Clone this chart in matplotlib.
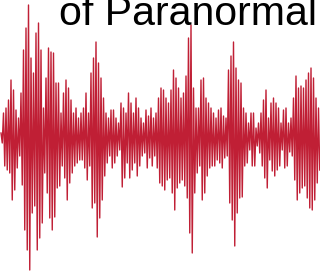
#!/usr/bin/env python3
# -*- coding: utf-8 -*-

import numpy as np
import matplotlib.pyplot as plt

title_text = 'of Paranormal'

# waveform samples (peak, trough pairs)
wave = [
    5, -5, 25, -28, 30, -32, 38, -35, 58, -62, 48, -52, 28, -30, 20, -18,
    45, -47, 88, -92, 110, -112, 133, -132, 80, -75, 65, -68, 105, -112, 115, -100,
    88, -85, 30, -35, 60, -55, 90, -80, 86, -92, 85, -79, 55, -50, 55, -48,
    25, -28, 45, -40, 58, -62, 50, -45, 38, -35, 25, -28, 30, -25, 20, -22,
    25, -22, 30, -30, 45, -42, 25, -28, 65, -70, 80, -65, 96, -99, 75, -80,
    60, -62, 40, -38, 25, -25, 20, -18, 28, -30, 28, -25, 20, -18, 15, -12,
    35, -49, 30, -40, 25, -25, 45, -40, 35, -32, 25, -25, 40, -38, 30, -28,
    20, -18, 15, -15, 28, -30, 22, -20, 30, -28, 20, -18, 25, -30, 40, -45,
    50, -48, 48, -52, 40, -42, 35, -40, 48, -55, 68, -72, 60, -50, 50, -45,
    40, -42, 45, -48, 62, -60, 100, -95, 113, -115, 50, -55, 30, -35, 30, -28,
    58, -62, 60, -55, 40, -38, 35, -30, 30, -28, 25, -28, 20, -22, 28, -25,
    30, -30, 22, -20, 20, -18, 68, -65, 82, -82, 96, -108, 70, -75, 58, -60,
    55, -59, 30, -28, 25, -25, 15, -12, 25, -28, 25, -28, 10, -8, 15, -15,
    25, -28, 38, -40, 48, -50, 20, -22, 35, -33, 40, -38, 35, -32, 30, -28,
    15, -12, 28, -30, 30, -28, 15, -14, 20, -18, 40, -42, 62, -62, 50, -55,
    52, -50, 50, -48, 58, -60, 65, -70, 70, -72, 60, -62, 40, -45, 30, -32,
]

fig = plt.figure(figsize=(3.2, 2.77), dpi=100)
ax = fig.add_axes([0, 0, 1, 1])
ax.plot(np.arange(len(wave)), wave, color='#c01f35', lw=1.0)
ax.set_xlim(-0.8, len(wave) - 0.8)
ax.set_ylim(-139, 138)
ax.axis('off')

fig.text(0.588, 1 - 25 / 277, title_text, ha='center', va='baseline',
         fontsize=29.5, family='Liberation Sans', color='black')

fig.savefig('out.png', dpi=100)
